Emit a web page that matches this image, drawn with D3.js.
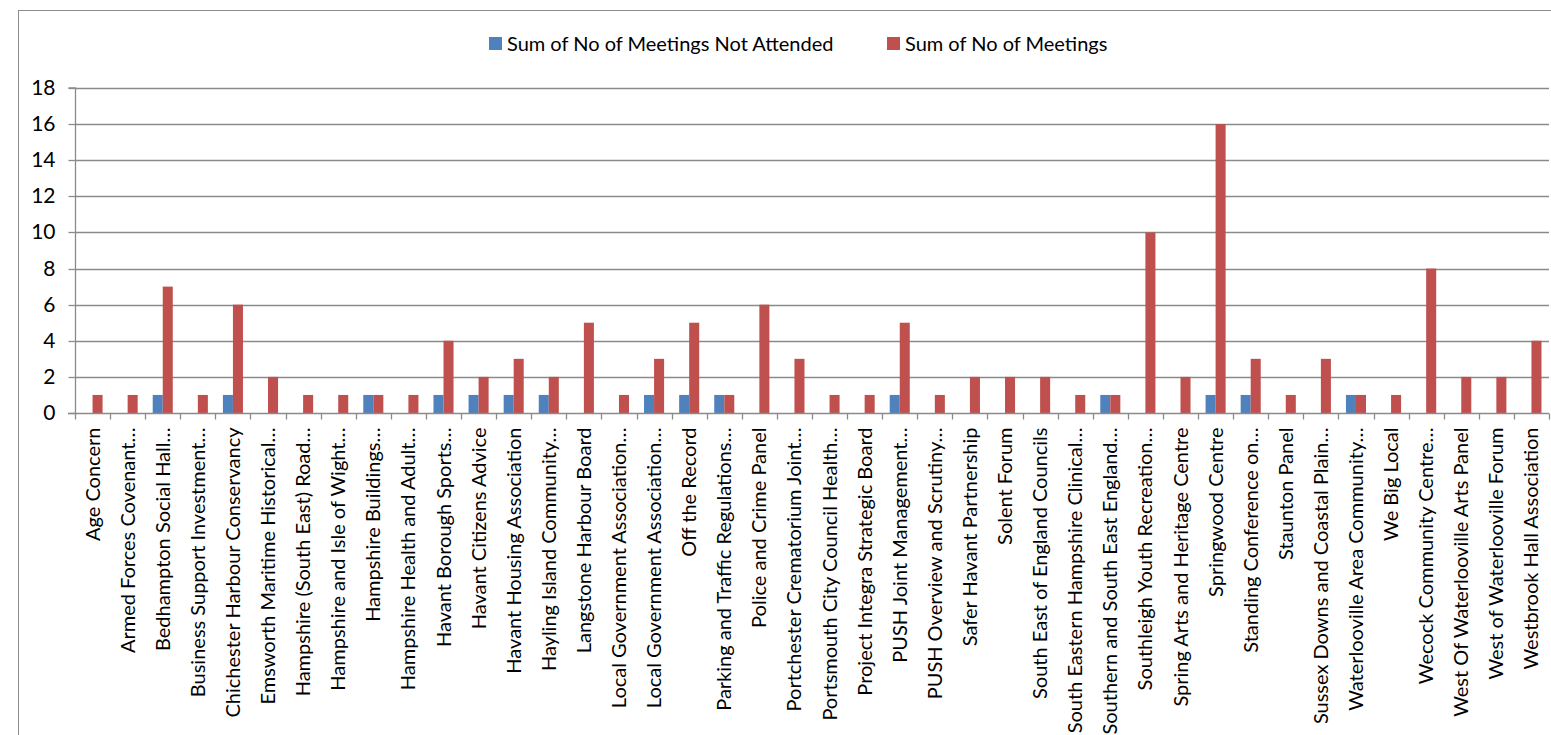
<!DOCTYPE html>
<html>
<head>
<meta charset="utf-8">
<script src="https://cdn.jsdelivr.net/npm/d3@7"></script>
<style>
  html, body { margin: 0; padding: 0; background: #fff; }
  svg { display: block; font-family: Lato, "Open Sans", sans-serif; }
</style>
</head>
<body>
<svg id="chart" width="1551" height="735"></svg>
<script>
const categories = [
  "Age Concern", "Armed Forces Covenant…", "Bedhampton Social Hall…", "Business Support Investment…",
  "Chichester Harbour Conservancy", "Emsworth Maritime Historical…", "Hampshire (South East) Road…",
  "Hampshire and Isle of Wight…", "Hampshire Buildings…", "Hampshire Health and Adult…",
  "Havant Borough Sports…", "Havant Citizens Advice", "Havant Housing Association",
  "Hayling Island Community…", "Langstone Harbour Board", "Local Government Association…",
  "Local Government Association…", "Off the Record", "Parking and Traffic Regulations…",
  "Police and Crime Panel", "Portchester Crematorium Joint…", "Portsmouth City Council Health…",
  "Project Integra Strategic Board", "PUSH Joint Management…", "PUSH Overview and Scrutiny…",
  "Safer Havant Partnership", "Solent Forum", "South East of England Councils",
  "South Eastern Hampshire Clinical…", "Southern and South East England…",
  "Southleigh Youth Recreation…", "Spring Arts and Heritage Centre", "Springwood Centre",
  "Standing Conference on…", "Staunton Panel", "Sussex Downs and Coastal Plain…",
  "Waterlooville Area Community…", "We Big Local", "Wecock Community Centre…",
  "West Of Waterlooville Arts Panel", "West of Waterlooville Forum", "Westbrook Hall Association"
];
const notAttended = [0,0,1,0,1,0,0,0,1,0,1,1,1,1,0,0,1,1,1,0,0,0,0,1,0,0,0,0,0,1,0,0,1,1,0,0,1,0,0,0,0,0];
const meetings    = [1,1,7,1,6,2,1,1,1,1,4,2,3,2,5,1,3,5,1,6,3,1,1,5,1,2,2,2,1,1,10,2,16,3,1,3,1,1,8,2,2,4];
const seriesNames = ["Sum of No of Meetings Not Attended", "Sum of No of Meetings"];
const seriesColors = ["#4F81BD", "#C0504D"];
const yTicks = [0,2,4,6,8,10,12,14,16,18];

(function () {
const svg = d3.select("#chart");
const fontSize = 20;

// chart border
svg.append("rect").attr("x", 18.5).attr("y", 10.5).attr("width", 1600).attr("height", 800)
  .attr("fill", "none").attr("stroke", "#8c8c8c").attr("stroke-width", 1);

const pLeft = 75, pRight = 1549, pTop = 88, pBottom = 413;
const x = d3.scaleBand().domain(d3.range(categories.length)).range([pLeft, pRight]).paddingInner(0).paddingOuter(0);
const y = d3.scaleLinear().domain([0, 18]).range([pBottom, pTop]);
const barW = x.bandwidth() / 3.5;

// gridlines
svg.append("g").selectAll("line").data(yTicks.filter(d => d > 0)).join("line")
  .attr("x1", pLeft).attr("x2", pRight)
  .attr("y1", d => Math.round(y(d)) + 0.5).attr("y2", d => Math.round(y(d)) + 0.5)
  .attr("stroke", "#8a8a8a").attr("stroke-width", 1.3);

// y axis
const yAxis = d3.axisLeft(y).tickValues(yTicks).tickSize(7).tickPadding(13);
const gy = svg.append("g").attr("transform", `translate(${pLeft + 0.5},0)`).call(yAxis);
gy.select(".domain").attr("stroke", "#8a8a8a").attr("stroke-width", 1.3).attr("d", `M-7,${pTop}H0V${pBottom}`);
gy.selectAll(".tick line").attr("stroke", "#8a8a8a").attr("stroke-width", 1.3);
gy.selectAll(".tick").attr("transform", d => `translate(0,${Math.round(y(d)) + 0.5})`);
gy.selectAll(".tick text").attr("font-size", 21).attr("fill", "#000")
  .attr("font-family", "Lato, 'Open Sans', sans-serif");

// bars
const series = [notAttended, meetings];
series.forEach((vals, si) => {
  svg.append("g").selectAll("rect").data(vals).join("rect")
    .attr("x", (d, i) => x(i) + x.bandwidth() / 2 - barW + si * barW)
    .attr("y", d => y(d))
    .attr("width", barW)
    .attr("height", d => y(0) - y(d))
    .attr("fill", seriesColors[si]);
});

// x axis
const gx = svg.append("g").attr("transform", `translate(0,${pBottom + 0.5})`);
gx.append("line").attr("x1", pLeft - 7).attr("x2", pRight).attr("stroke", "#8a8a8a").attr("stroke-width", 1.3);
gx.selectAll("line.tk").data(d3.range(categories.length + 1)).join("line").attr("class", "tk")
  .attr("x1", i => Math.round(pLeft + i * x.step()) + 0.5).attr("x2", i => Math.round(pLeft + i * x.step()) + 0.5)
  .attr("y1", 0).attr("y2", 6).attr("stroke", "#8a8a8a").attr("stroke-width", 1.3);
gx.selectAll("text").data(categories).join("text")
  .attr("transform", (d, i) => `translate(${x(i) + x.bandwidth() / 2 + 7},14) rotate(-90)`)
  .attr("text-anchor", "end")
  .attr("font-size", fontSize).attr("fill", "#000")
  .text(d => d);

// legend
const legendX = [489, 887];
seriesNames.forEach((name, i) => {
  svg.append("rect").attr("x", legendX[i]).attr("y", 37).attr("width", 13).attr("height", 13).attr("fill", seriesColors[i]);
  svg.append("text").attr("x", legendX[i] + 18).attr("y", 50.5).attr("font-size", fontSize).attr("fill", "#000").text(name);
});
})();
</script>
</body>
</html>
